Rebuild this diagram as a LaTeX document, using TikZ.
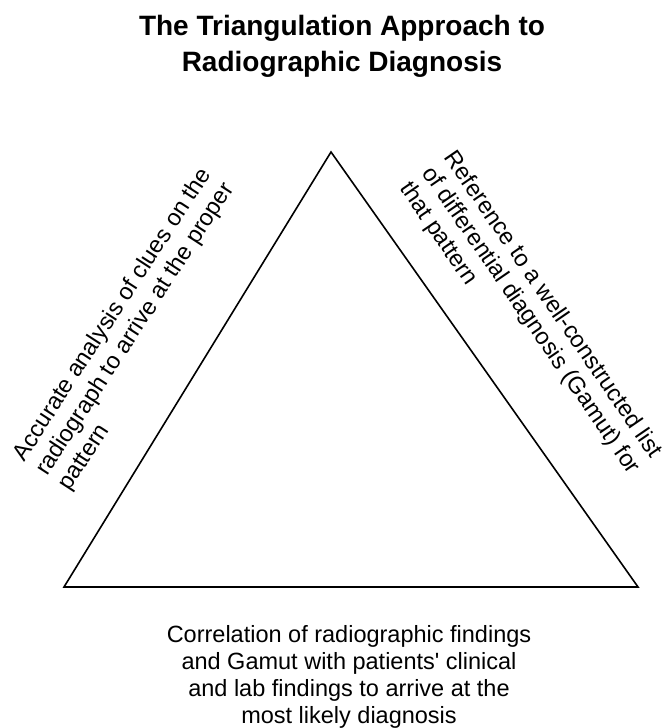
\documentclass[tikz,border=0pt]{standalone}
\usepackage{fontspec}
\setmainfont{Liberation Sans}
\begin{document}
\begin{tikzpicture}[x=1pt,y=1pt,
  body/.style={inner sep=0pt, font=\fontsize{23.5}{27}\selectfont},
  titletext/.style={inner sep=0pt, align=center, font=\fontsize{28}{36}\selectfont\bfseries},
  tri/.style={draw=black, line width=1.6pt, line join=miter}]
\useasboundingbox[fill=white] (0,0) rectangle (668,728);
\coordinate (A) at (331,576);
\coordinate (B) at (64,141);
\coordinate (C) at (638,141);
\draw[tri] (A) -- (B) -- (C) -- cycle;
\node[titletext, anchor=north] (title) at (342,713) {The Triangulation Approach to\\Radiographic Diagnosis};
\node[body, align=left, rotate=57, anchor=north west] (left) at (10,275)
  {Accurate analysis of clues on the\\radiograph to arrive at the proper\\pattern};
\node[body, align=left, rotate=-55.5, anchor=north west] (right) at (458,580)
  {Reference to a well-constructed list\\of differential diagnosis (Gamut) for\\that pattern};
\node[body, align=center, anchor=north] (bottom) at (349,103)
  {Correlation of radiographic findings\\and Gamut with patients\textquotesingle{} clinical\\and lab findings to arrive at the\\most likely diagnosis};
\end{tikzpicture}
\end{document}
